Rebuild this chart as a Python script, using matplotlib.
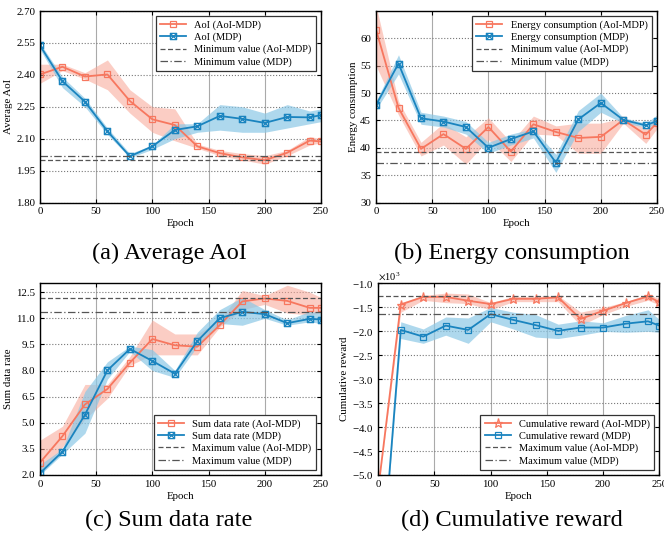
import numpy as np
import matplotlib
matplotlib.use("Agg")
import matplotlib.pyplot as plt
from matplotlib.path import Path

plt.rcParams["font.family"] = ["Liberation Serif", "DejaVu Serif"]
plt.rcParams["mathtext.fontset"] = "stix"

# ---- data ----
epochs = [0, 20, 40, 60, 80, 100, 120, 140, 160, 180, 200, 220, 240, 250]

# (a) average AoI
aoi_ours = [2.402, 2.438, 2.392, 2.402, 2.277, 2.191, 2.164, 2.064, 2.032, 2.012, 1.999, 2.034, 2.091, 2.087]
aoi_ours_lo = [2.36, 2.42, 2.38, 2.33, 2.22, 2.13, 2.09, 2.055, 2.02, 2.00, 1.98, 2.02, 2.07, 2.08]
aoi_ours_hi = [2.45, 2.45, 2.41, 2.47, 2.33, 2.25, 2.24, 2.075, 2.045, 2.03, 2.02, 2.045, 2.11, 2.10]
aoi_mdp = [2.538, 2.370, 2.274, 2.135, 2.017, 2.064, 2.141, 2.158, 2.207, 2.193, 2.174, 2.202, 2.200, 2.211]
aoi_mdp_lo = [2.52, 2.34, 2.25, 2.12, 2.01, 2.05, 2.10, 2.13, 2.14, 2.13, 2.13, 2.15, 2.17, 2.18]
aoi_mdp_hi = [2.55, 2.39, 2.29, 2.15, 2.03, 2.07, 2.17, 2.17, 2.26, 2.25, 2.22, 2.26, 2.23, 2.24]

# (b) energy consumption
en_ours = [61.6, 47.3, 39.8, 42.5, 39.8, 43.8, 39.3, 44.3, 42.9, 41.8, 42.0, 45.1, 42.4, 44.6]
en_ours_lo = [55.0, 46.0, 38.5, 40.5, 37.0, 41.5, 37.5, 42.5, 42.3, 39.0, 39.0, 44.5, 40.8, 43.5]
en_ours_hi = [66.0, 48.5, 41.0, 44.5, 42.0, 45.5, 41.0, 45.8, 44.0, 44.5, 44.5, 45.5, 43.5, 46.0]
en_mdp = [47.8, 55.4, 45.4, 44.8, 43.8, 40.0, 41.6, 43.0, 37.3, 45.2, 48.2, 45.1, 44.1, 44.9]
en_mdp_lo = [47.0, 53.5, 44.3, 43.8, 42.5, 39.0, 40.5, 41.8, 35.5, 43.0, 46.5, 44.5, 43.8, 44.2]
en_mdp_hi = [48.5, 57.0, 46.5, 45.8, 44.8, 41.0, 42.5, 43.5, 38.8, 46.8, 50.0, 45.5, 44.5, 46.0]

# (c) sum data rate
rate_ours = [2.71, 4.23, 6.05, 6.94, 8.45, 9.81, 9.45, 9.37, 10.61, 11.97, 12.14, 12.00, 11.60, 11.60]
rate_ours_lo = [2.0, 3.6, 5.2, 6.4, 8.3, 8.9, 8.9, 8.9, 10.5, 11.5, 11.8, 11.3, 11.2, 11.3]
rate_ours_hi = [4.0, 4.8, 7.2, 7.2, 8.8, 10.9, 10.1, 10.1, 10.9, 12.6, 12.3, 12.9, 12.5, 12.2]
rate_mdp = [2.10, 3.34, 5.46, 8.01, 9.24, 8.55, 7.82, 9.69, 11.01, 11.37, 11.24, 10.72, 10.97, 10.93]
rate_mdp_lo = [2.0, 3.2, 4.4, 7.5, 9.1, 8.0, 7.6, 9.4, 10.7, 10.6, 11.0, 10.6, 10.8, 10.7]
rate_mdp_hi = [2.6, 3.5, 6.8, 8.5, 9.4, 9.2, 8.0, 10.2, 11.5, 12.2, 11.5, 10.9, 11.4, 11.3]

# (d) cumulative reward
rew_ours = [-5290, -1440, -1280, -1280, -1360, -1430, -1320, -1320, -1290, -1740, -1570, -1410, -1270, -1390]
rew_ours_lo = [-5290, -1600, -1350, -1400, -1420, -1550, -1380, -1380, -1380, -1880, -1650, -1480, -1350, -1450]
rew_ours_hi = [-5290, -1400, -1250, -1200, -1220, -1400, -1270, -1270, -1250, -1600, -1500, -1380, -1220, -1320]
rew_mdp = [-7910, -1970, -2110, -1880, -1970, -1640, -1760, -1870, -1990, -1920, -1920, -1840, -1790, -1880]
rew_mdp_lo = [-7910, -2150, -2250, -2080, -2250, -1800, -1950, -2120, -2150, -2080, -2000, -2020, -2000, -2020]
rew_mdp_hi = [-7910, -1800, -1950, -1700, -1720, -1500, -1600, -1650, -1850, -1780, -1820, -1670, -1550, -1750]

# ---- style ----
red = "#F7775F"
red_fill = "#F9A595"
blue = "#1A84BF"
blue_fill = "#8CC8E6"

# square with a cross inside
boxx = Path([(-1, -1), (1, -1), (1, 1), (-1, 1), (-1, -1),
             (-1, -1), (1, 1), (-1, 1), (1, -1)],
            [Path.MOVETO, Path.LINETO, Path.LINETO, Path.LINETO, Path.CLOSEPOLY,
             Path.MOVETO, Path.LINETO, Path.MOVETO, Path.LINETO])

fig = plt.figure(figsize=(6.64, 5.37), dpi=100)
W, H = 0.4232, 0.3566
positions = [(0.0602, 0.6229), (0.5663, 0.6229), (0.0602, 0.1155), (0.5697, 0.1155)]
captions_xy = [(0.2545, 0.5289), (0.771, 0.5289), (0.2545, 0.0317), (0.771, 0.0317)]

panels = [
    dict(y1=aoi_ours, l1=aoi_ours_lo, h1=aoi_ours_hi, y2=aoi_mdp, l2=aoi_mdp_lo, h2=aoi_mdp_hi,
         name="AoI", ylabel="Average AoI", ref="Minimum value", mode="min",
         ylim=(1.80, 2.70), yticks=np.arange(1.80, 2.71, 0.15), fmt="%.2f",
         m1="s", m2=boxx, loc="upper right", caption="(a) Average AoI"),
    dict(y1=en_ours, l1=en_ours_lo, h1=en_ours_hi, y2=en_mdp, l2=en_mdp_lo, h2=en_mdp_hi,
         name="Energy consumption", ylabel="Energy consumption", ref="Minimum value", mode="min",
         ylim=(30, 65), yticks=np.arange(30, 61, 5), fmt="%d",
         m1="s", m2=boxx, loc="upper right", caption="(b) Energy consumption"),
    dict(y1=rate_ours, l1=rate_ours_lo, h1=rate_ours_hi, y2=rate_mdp, l2=rate_mdp_lo, h2=rate_mdp_hi,
         name="Sum data rate", ylabel="Sum data rate", ref="Maximum value", mode="max",
         ylim=(2.0, 13.0), yticks=np.arange(2.0, 12.6, 1.5), fmt="%.1f",
         m1="s", m2=boxx, loc="lower right", caption="(c) Sum data rate"),
    dict(y1=rew_ours, l1=rew_ours_lo, h1=rew_ours_hi, y2=rew_mdp, l2=rew_mdp_lo, h2=rew_mdp_hi,
         name="Cumulative reward", ylabel="Cumulative reward", ref="Maximum value", mode="max",
         ylim=(-5000, -1000), yticks=np.arange(-5000, -999, 500), fmt=None,
         m1="*", m2="s", loc="lower right", caption="(d) Cumulative reward"),
]

for (x0, y0), (cx, cy), p in zip(positions, captions_xy, panels):
    ax = fig.add_axes([x0, y0, W, H])
    ax.fill_between(epochs, p["l1"], p["h1"], color=red_fill, alpha=0.55, lw=0)
    ax.fill_between(epochs, p["l2"], p["h2"], color=blue_fill, alpha=0.7, lw=0)
    ax.plot(epochs, p["y1"], color=red, lw=1.3, marker=p["m1"],
            ms=6.5 if p["m1"] == "*" else 4.5, mfc="none", mew=0.9,
            label=f"{p['name']} (AoI-MDP)")
    ax.plot(epochs, p["y2"], color=blue, lw=1.3, marker=p["m2"], ms=4.5,
            mfc="none", mew=0.9, label=f"{p['name']} (MDP)")
    agg = min if p["mode"] == "min" else max
    ax.axhline(agg(p["y1"]), color="#555555", lw=0.9, ls=(0, (4, 2)),
               label=f"{p['ref']} (AoI-MDP)")
    ax.axhline(agg(p["y2"]), color="#555555", lw=0.9, ls=(0, (6, 2, 1, 2)),
               label=f"{p['ref']} (MDP)")

    ax.set_xlim(0, 250)
    ax.set_xticks(range(0, 251, 50))
    ax.set_ylim(*p["ylim"])
    ax.set_yticks(p["yticks"])
    if p["fmt"]:
        ax.yaxis.set_major_formatter(matplotlib.ticker.FormatStrFormatter(p["fmt"]))
    else:
        ax.ticklabel_format(axis="y", style="sci", scilimits=(3, 3), useMathText=True)
        ax.yaxis.get_offset_text().set_fontsize(7.5)
    ax.tick_params(direction="in", top=True, right=True, labelsize=7.8, length=3, width=0.8)
    ax.grid(axis="x", color="#aaaaaa", lw=0.8, ls="-")
    ax.grid(axis="y", color="#777777", lw=0.8, ls=":")
    ax.set_axisbelow(True)
    for s in ax.spines.values():
        s.set_linewidth(1.0)
    ax.set_xlabel("Epoch", fontsize=7.8, labelpad=2)
    ax.set_ylabel(p["ylabel"], fontsize=7.8, labelpad=2)
    leg = ax.legend(loc=p["loc"], fontsize=7.5, frameon=True, fancybox=False,
                    edgecolor="#333333", framealpha=1, borderpad=0.4,
                    handlelength=2.5, labelspacing=0.25)
    leg.get_frame().set_linewidth(0.9)

    fig.text(cx, cy, p["caption"], ha="center", va="center", fontsize=17.5)

fig.savefig("out.png", dpi=100)
